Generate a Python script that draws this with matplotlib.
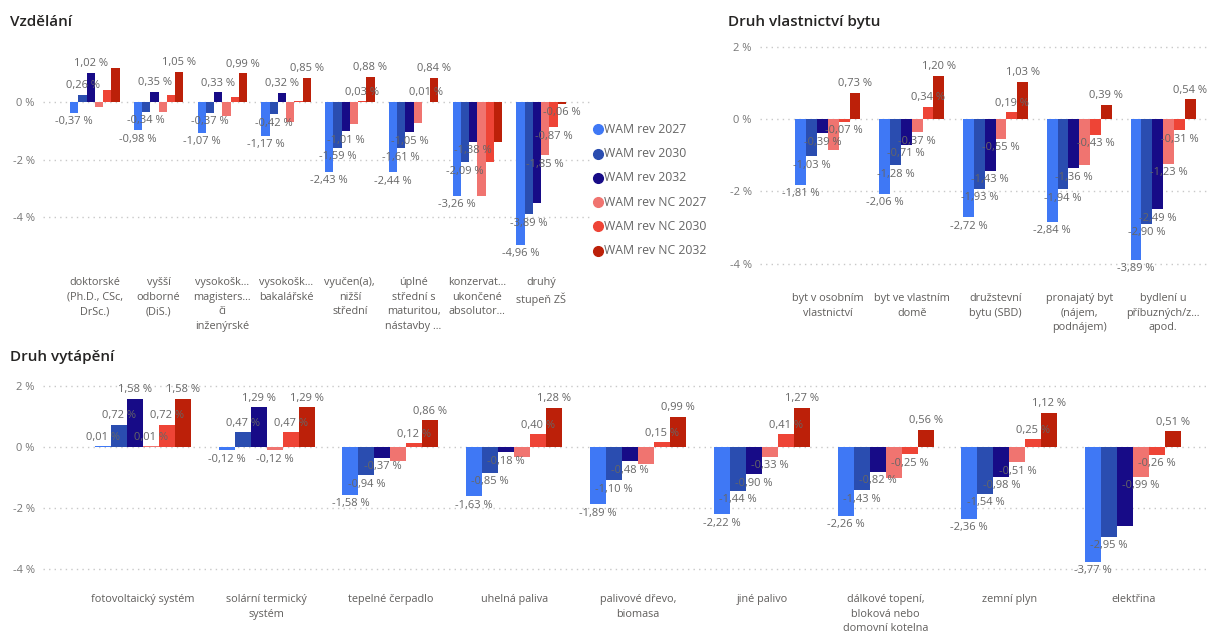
import matplotlib
matplotlib.use("Agg")
import matplotlib.pyplot as plt
from matplotlib.lines import Line2D
from matplotlib.transforms import blended_transform_factory
import numpy as np

plt.rcParams['font.family'] = ['Open Sans', 'DejaVu Sans']

# ---------------- data ----------------
series_names = ["WAM rev 2027", "WAM rev 2030", "WAM rev 2032",
                "WAM rev NC 2027", "WAM rev NC 2030", "WAM rev NC 2032"]
series_colors = ["#3F78F5", "#2A4DB0", "#170B87", "#F07470", "#EE4436", "#BC2009"]

edu_cats = ["doktorské\n(Ph.D., CSc,\nDrSc.)", "vyšší\nodborné\n(DiS.)",
            "vysokošk...\nmagisters...\nči\ninženýrské", "vysokošk...\nbakalářské",
            "vyučen(a),\nnižší\nstřední", "úplné\nstřední s\nmaturitou,\nnástavby ...",
            "konzervat...\nukončené\nabsolutor...", "druhý\nstupeň ZŠ"]
edu_2027 = [-0.37, -0.98, -1.07, -1.17, -2.43, -2.44, -3.26, -4.96]
edu_2030 = [0.26, -0.34, -0.37, -0.42, -1.59, -1.61, -2.09, -3.89]
edu_2032 = [1.02, 0.35, 0.33, 0.32, -1.01, -1.05, -1.38, -3.50]
edu_nc2027 = [-0.19, -0.36, -0.48, -0.70, -0.75, -0.74, -3.26, -1.85]
edu_nc2030 = [0.42, 0.25, 0.17, 0.02, 0.03, 0.01, -2.09, -0.87]
edu_nc2032 = [1.18, 1.05, 0.99, 0.85, 0.88, 0.84, -1.38, -0.06]
# labels that the original hides (category index, series index)
edu_hidden = [(0, 3), (0, 4), (0, 5), (1, 3), (1, 4), (2, 3), (2, 4), (3, 3), (3, 4),
              (4, 3), (5, 3), (6, 3), (6, 4), (6, 5), (7, 2)]

own_cats = ["byt v osobním\nvlastnictví", "byt ve vlastním\ndomě", "družstevní\nbytu (SBD)",
            "pronajatý byt\n(nájem,\npodnájem)", "bydlení u\npříbuzných/z...\napod."]
own_2027 = [-1.81, -2.06, -2.72, -2.84, -3.89]
own_2030 = [-1.03, -1.28, -1.93, -1.94, -2.90]
own_2032 = [-0.39, -0.71, -1.43, -1.36, -2.49]
own_nc2027 = [-0.86, -0.37, -0.55, -1.27, -1.23]
own_nc2030 = [-0.07, 0.34, 0.19, -0.43, -0.31]
own_nc2032 = [0.73, 1.20, 1.03, 0.39, 0.54]
own_hidden = [(0, 3), (3, 3)]

heat_cats = ["fotovoltaický systém", "solární termický\nsystém", "tepelné čerpadlo",
             "uhelná paliva", "palivové dřevo,\nbiomasa", "jiné palivo",
             "dálkové topení,\nbloková nebo\ndomovní kotelna", "zemní plyn", "elektřina"]
heat_2027 = [0.01, -0.12, -1.58, -1.63, -1.89, -2.22, -2.26, -2.36, -3.77]
heat_2030 = [0.72, 0.47, -0.94, -0.85, -1.10, -1.44, -1.43, -1.54, -2.95]
heat_2032 = [1.58, 1.29, -0.37, -0.18, -0.48, -0.90, -0.82, -0.98, -2.60]
heat_nc2027 = [0.01, -0.12, -0.47, -0.35, -0.58, -0.33, -1.02, -0.51, -0.99]
heat_nc2030 = [0.72, 0.47, 0.12, 0.40, 0.15, 0.41, -0.25, 0.25, -0.26]
heat_nc2032 = [1.58, 1.29, 0.86, 1.28, 0.99, 1.27, 0.56, 1.12, 0.51]
heat_hidden = [(2, 3), (3, 3), (4, 3), (6, 3), (8, 2)]

# ---------------- figure ----------------
W, H = 1209, 637
fig = plt.figure(figsize=(W / 100, H / 100), dpi=100)

def px_axes(x0, x1, y0, y1):
    return fig.add_axes([x0 / W, 1 - y1 / H, (x1 - x0) / W, (y1 - y0) / H])

LBL = "#666666"
TICK = "#777777"
CAT = "#605E5C"
TITLE = "#252423"

def fmt(v):
    return f"{v:.2f}".replace(".", ",") + " %"

def panel(ax, cats, data, hidden, ticks, ylim, xpad, cat_y, title, title_xy):
    n = len(cats)
    x = np.arange(n)
    group = 0.776
    w = group / len(data)
    for s, vals in enumerate(data):
        pos = x + (s - (len(data) - 1) / 2) * w
        ax.bar(pos, vals, width=w, color=series_colors[s], zorder=2, linewidth=0)
        for i, v in enumerate(vals):
            if (i, s) in hidden:
                continue
            if v >= 0:
                ax.annotate(fmt(v), (pos[i], v), xytext=(0, 2.5), textcoords="offset points",
                            ha="center", va="bottom", fontsize=8, color=LBL, zorder=5)
            else:
                ax.annotate(fmt(v), (pos[i], v), xytext=(0, -2.5), textcoords="offset points",
                            ha="center", va="top", fontsize=8, color=LBL, zorder=5)
    ax.set_xlim(-0.5 - xpad[0], n - 0.5 + xpad[1])
    ax.set_ylim(*ylim)
    ax.set_yticks(ticks)
    ax.set_yticklabels([f"{t} %" for t in ticks], fontsize=8, color=TICK)
    ax.tick_params(axis="y", length=0, pad=6)
    ax.set_xticks([])
    for sp in ax.spines.values():
        sp.set_visible(False)
    for t in ticks:
        ax.axhline(t, color="#C8C8C8", linewidth=1, linestyle=(0, (1, 3)), zorder=1)
    tr = blended_transform_factory(ax.transData, fig.transFigure)
    for i, c in enumerate(cats):
        ax.text(i, 1 - cat_y / H, c, transform=tr, ha="center", va="top", fontsize=7.8,
                color=CAT, linespacing=1.45)
    fig.text(title_xy[0] / W, 1 - title_xy[1] / H, title, fontsize=11, fontweight="semibold",
             color=TITLE, ha="left", va="center")

# Panel: Vzdělání
axA = px_axes(43, 592, 40, 250)
sA = 28.8
panel(axA, edu_cats,
      [edu_2027, edu_2030, edu_2032, edu_nc2027, edu_nc2030, edu_nc2032],
      edu_hidden, [0, -2, -4], (-(250 - 102) / sA, (102 - 40) / sA),
      (20 / 63.6, 19 / 63.6), 277, "Vzdělání", (10, 22))

# Panel: Druh vlastnictví bytu
axB = px_axes(760, 1209, 40, 280)
sB = 36.2
panel(axB, own_cats,
      [own_2027, own_2030, own_2032, own_nc2027, own_nc2030, own_nc2032],
      own_hidden, [2, 0, -2, -4], (-(280 - 119) / sB, (119 - 40) / sB),
      (26 / 83.7, 4 / 83.7), 293, "Druh vlastnictví bytu", (728, 22))

# Panel: Druh vytápění
axC = px_axes(43, 1209, 375, 590)
sC = 30.5
panel(axC, heat_cats,
      [heat_2027, heat_2030, heat_2032, heat_nc2027, heat_nc2030, heat_nc2032],
      heat_hidden, [2, 0, -2, -4], (-(590 - 446.7) / sC, (446.7 - 375) / sC),
      (38 / 123.6, 14 / 123.6), 594, "Druh vytápění", (10, 357))

# Legend (manual, Power BI style)
leg_y = [129.3, 153.5, 177.8, 202.2, 226.5, 250.8]
for name, col, yy in zip(series_names, series_colors, leg_y):
    fig.add_artist(Line2D([598 / W], [1 - yy / H], marker="o", markersize=7,
                          color=col, linestyle="none", transform=fig.transFigure))
    fig.text(604.5 / W, 1 - yy / H, name, fontsize=8.8, color="#666666",
             ha="left", va="center")

fig.savefig("out.png", dpi=100)
